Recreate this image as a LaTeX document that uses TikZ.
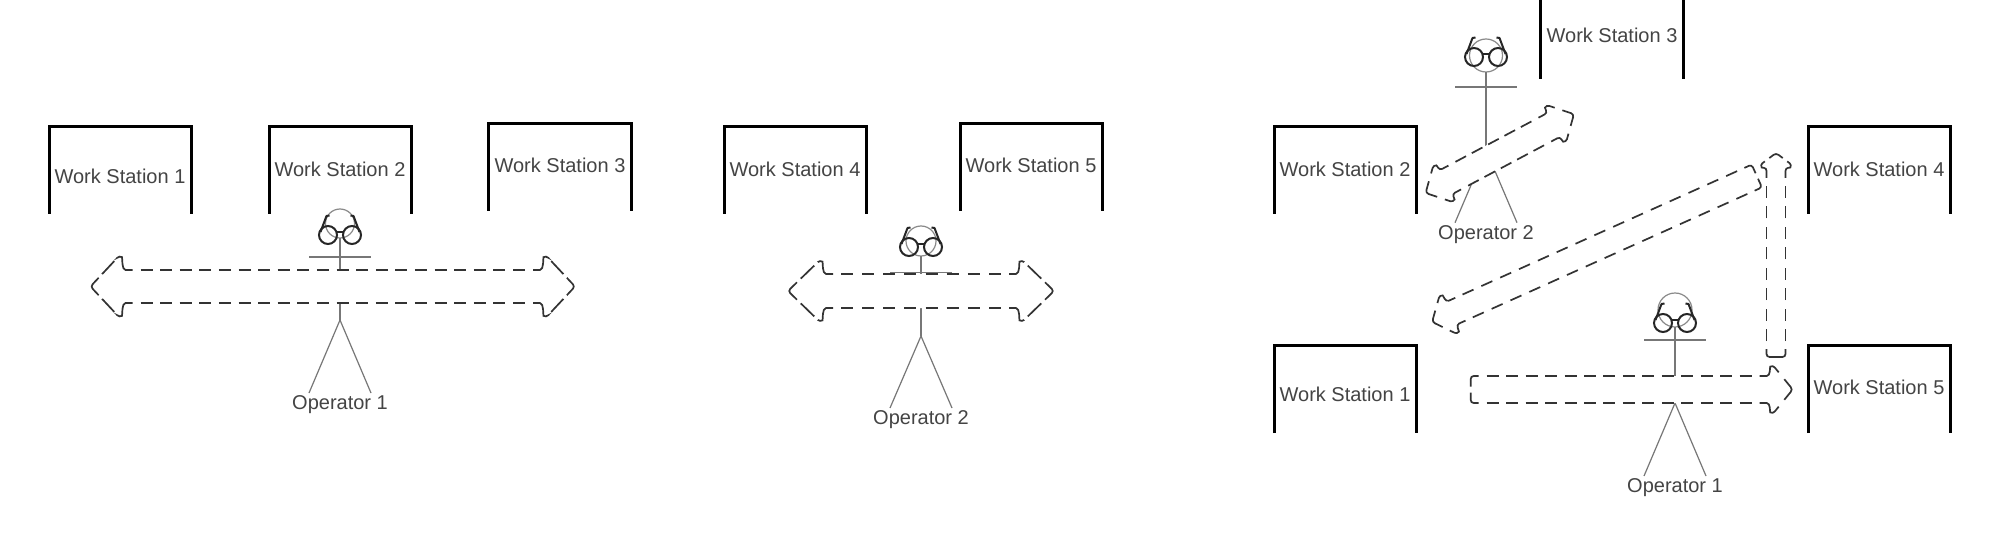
\documentclass[tikz,border=0pt]{standalone}
\usepackage{fontspec}
\setmainfont{Liberation Sans}
\definecolor{inkgray}{HTML}{444444}
\definecolor{headgray}{HTML}{8A8A8A}
\definecolor{limbgray}{HTML}{777777}
\definecolor{dashink}{HTML}{333333}
\tikzset{
  wall/.style={draw=black,line width=3pt,line cap=butt,miter limit=10},
  lab/.style={text=inkgray,font=\fontsize{20}{24}\selectfont,inner sep=0pt},
  limb/.style={draw=limbgray,line width=1.2pt},
  headline/.style={draw=headgray,line width=1.2pt},
  glass/.style={draw=black!85,line width=2pt},
  flowfill/.style={fill=white,draw=none},
  flowdash/.style={draw=dashink,line width=1.7pt},
  flowsolid/.style={draw=dashink,line width=1.7pt,rounded corners=3pt}
}
% works out the gap that makes a dashed run of the given length end on a dash
\newcommand{\setflowgap}[1]{%
  \pgfmathsetmacro{\flowcount}{round((#1+8)/20)}%
  \pgfmathsetmacro{\flowgap}{(#1-12*\flowcount)/(\flowcount-1)}%
}
% name, xl, xr, ytop, ybottom, text x, text y, text
\newcommand{\wstation}[8]{%
  \draw[wall] (#2,#5) -- (#2,#4) -- (#3,#4) -- (#3,#5);
  \node[lab] (#1) at (#6,#7) {#8};
}
% name, cx, head cy, head r, glasses y, arm y, apex y, foot y, text
\newcommand{\opfigure}[9]{%
  \draw[headline] (#2,#3) circle[radius=#4];
  \draw[limb] (#2,#3+#4) -- (#2,#7);
  \draw[limb] (#2-31,#6) -- (#2+31,#6);
  \draw[limb] (#2-31,#8) -- (#2,#7) -- (#2+31,#8);
  \draw[glass] (#2-12,#5) circle[radius=9];
  \draw[glass] (#2+12,#5) circle[radius=9];
  \draw[glass] (#2-4,#5-3) -- (#2+4,#5-3);
  \draw[glass,line join=round] (#2-19.5,#5-3) -- (#2-13.5,#5-19) -- (#2-10.5,#5-19.5);
  \draw[glass,line join=round] (#2+19.5,#5-3) -- (#2+13.5,#5-19) -- (#2+10.5,#5-19.5);
  \node[lab] (#1) at (#2,#8+11.5) {#9};
}
% head with its tip at the origin, pointing along +x: h, hw, hl
\newcommand{\headbarbs}[4]{%
  \draw[flowsolid] (-#3-13,-#1) -- (-#3-9,-#1)
    .. controls (-#3-2,-#1) and (-#3-3,-#2+2) .. (-#3,-#2) -- (-#4*#3,-#4*#2);
  \draw[flowsolid] (-#3-13,#1) -- (-#3-9,#1)
    .. controls (-#3-2,#1) and (-#3-3,#2-2) .. (-#3,#2) -- (-#4*#3,#4*#2);
}
\newcommand{\bighead}[3]{%
  \headbarbs{#1}{#2}{#3}{0.93}
  \draw[flowsolid] (-0.28*#3,-0.28*#2) -- (0,0) -- (-0.28*#3,0.28*#2);
  \draw[flowsolid] (-0.82*#3,-0.82*#2) -- (-0.40*#3,-0.40*#2);
  \draw[flowsolid] (-0.82*#3,0.82*#2) -- (-0.40*#3,0.40*#2);
}
\newcommand{\smallhead}[3]{%
  \headbarbs{#1}{#2}{#3}{0.70}
  \draw[flowsolid] (-0.42*#3,-0.42*#2) -- (0,0) -- (-0.42*#3,0.42*#2);
}
% tip-left x, y, angle, length, h, hw, hl, head macro : two heads
\newcommand{\twohead}[8]{%
  \begin{scope}[shift={(#1,#2)},rotate=#3]
    \fill[flowfill] (#4-#7-9,-#5) -- (#4-#7,-#5) -- (#4-#7,-#6) -- (#4,0) -- (#4-#7,#6) -- (#4-#7,#5)
      -- (#7,#5) -- (#7,#6) -- (0,0) -- (#7,-#6) -- (#7,-#5) -- cycle;
    \setflowgap{#4-2*#7-42}
    \draw[flowdash,dash pattern=on 12pt off \flowgap pt] (#7+21,-#5) -- (#4-#7-21,-#5);
    \draw[flowdash,dash pattern=on 12pt off \flowgap pt] (#7+21,#5) -- (#4-#7-21,#5);
    \begin{scope}[shift={(#4,0)}] #8{#5}{#6}{#7} \end{scope}
    \begin{scope}[rotate=180] #8{#5}{#6}{#7} \end{scope}
  \end{scope}
}
% tail x, y, angle, length, h, hw, hl, head macro, half gap in tail : one head at far end
\newcommand{\onehead}[9]{%
  \begin{scope}[shift={(#1,#2)},rotate=#3]
    \fill[flowfill] (0,-#5) -- (#4-#7,-#5) -- (#4-#7,-#6) -- (#4,0) -- (#4-#7,#6) -- (#4-#7,#5)
      -- (0,#5) -- cycle;
    \setflowgap{#4-#7-37}
    \draw[flowdash,dash pattern=on 12pt off \flowgap pt] (16,-#5) -- (#4-#7-21,-#5);
    \draw[flowdash,dash pattern=on 12pt off \flowgap pt] (16,#5) -- (#4-#7-21,#5);
    \draw[flowsolid] (8,-#5) -- (0,-#5) -- (0,-#9);
    \draw[flowsolid] (8,#5) -- (0,#5) -- (0,#9);
    \begin{scope}[shift={(#4,0)}] #8{#5}{#6}{#7} \end{scope}
  \end{scope}
}
\begin{document}
\begin{tikzpicture}[x=1pt,y=-1pt]
\useasboundingbox (0,0) rectangle (2000,540);
\fill[white] (0,0) rectangle (2000,540);
% left panel
\wstation{wsa}{49}{191}{127}{214}{120}{176}{Work Station 1}
\wstation{wsb}{269}{411}{127}{214}{340}{169}{Work Station 2}
\wstation{wsc}{488.5}{631}{123.5}{211}{560}{165}{Work Station 3}
\opfigure{opa}{340}{223.5}{14.5}{235}{257}{320}{393}{Operator 1}
\twohead{90.5}{286.5}{0}{484.5}{16.5}{31}{29}{\bighead}
% middle panel
\wstation{wsd}{724}{866}{127}{214}{795}{169}{Work Station 4}
\wstation{wse}{960}{1102}{123.5}{211}{1031}{165}{Work Station 5}
\opfigure{opb}{921}{241}{15}{247}{272.7}{336}{408}{Operator 2}
\twohead{788}{291}{0}{266}{17}{31}{32}{\bighead}
% right panel
\wstation{wsf}{1540.5}{1683}{-5}{79}{1612}{35}{Work Station 3}
\wstation{wsg}{1274}{1416}{127}{214}{1345}{169}{Work Station 2}
\wstation{wsh}{1808}{1950}{127}{214}{1879}{169}{Work Station 4}
\wstation{wsi}{1274}{1416}{345}{433}{1345}{394}{Work Station 1}
\wstation{wsj}{1808}{1950}{345}{433}{1879}{387}{Work Station 5}
\opfigure{opc}{1486}{55.5}{16.5}{57}{87}{150}{222.7}{Operator 2}
\opfigure{opd}{1675}{310}{17}{323}{340}{403}{476}{Operator 1}
\twohead{1425.6}{193}{28}{168}{13.5}{21}{20}{\smallhead}
\onehead{1756.8}{176}{204.2}{356}{12.5}{21.5}{18}{\smallhead}{3}
\onehead{1776}{357}{90}{204}{9.5}{16}{12}{\smallhead}{0}
\onehead{1470.7}{389.5}{0}{322}{13.5}{24.5}{20}{\smallhead}{3}
\end{tikzpicture}
\end{document}
